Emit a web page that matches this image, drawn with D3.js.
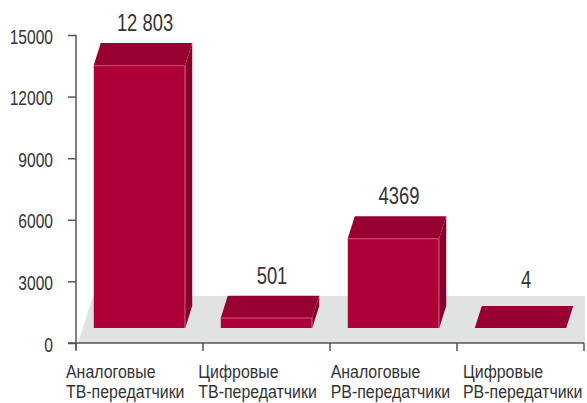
<!DOCTYPE html>
<html>
<head>
<meta charset="utf-8">
<script src="https://cdn.jsdelivr.net/npm/d3@7.9.0/dist/d3.min.js"></script>
<style>
  body { margin: 0; background: #fff; }
  svg { display: block; font-family: "Liberation Sans", Arial, sans-serif; }
</style>
</head>
<body>
<svg id="chart" width="587" height="403"></svg>
<script>
// data
const categories = [
  ['Аналоговые', 'ТВ-передатчики'],
  ['Цифровые', 'ТВ-передатчики'],
  ['Аналоговые', 'РВ-передатчики'],
  ['Цифровые', 'РВ-передатчики']
];
const values = [12803, 501, 4369, 4];
const valueLabels = ['12 803', '501', '4369', '4'];
const yTicks = [0, 3000, 6000, 9000, 12000, 15000];

const svg = d3.select('#chart');
const textColor = '#333';
const axisColor = '#555';
const narrow = 0.8; // condensed look

// put text at (x,y) and squeeze it horizontally
function squeeze(t, x, y, k = narrow) {
  t.attr('x', 0).attr('y', 0).attr('transform', `translate(${x},${y}) scale(${k},1)`);
}

const y = d3.scaleLinear().domain([0, 15000]).range([343, 35]);
const x = d3.scaleBand().domain(d3.range(values.length)).range([76, 584]).padding(0);

// 3d look
const floorDepth = 47;
const floorDx = 15;
const barInset = 15;
const depthDx = 7, depthDy = 22;
const barW = x.bandwidth() * 0.72;
const frontCol = '#ae0036', topCol = '#970030', sideCol = '#85002b';

// floor
const fy0 = y(0), fy1 = y(0) - floorDepth;
svg.append('path')
  .attr('d', `M${x.range()[0] + 2},${fy0} L${x.range()[0] + 2 + floorDx},${fy1} L${x.range()[1] + 1},${fy1} L${x.range()[1] + 1},${fy0} Z`)
  .attr('fill', '#e1e2e4');

// bars
const base = y(0) - barInset;
const h = (v) => y(0) - y(v);
values.forEach((v, i) => {
  const x0 = x(i) + (x.bandwidth() - barW) / 2;
  const x1 = x0 + barW;
  const yt = base - h(v);
  const g = svg.append('g');
  g.append('path')
    .attr('d', `M${x1},${base} L${x1 + depthDx},${base - depthDy} L${x1 + depthDx},${yt - depthDy} L${x1},${yt} Z`)
    .attr('fill', sideCol);
  g.append('path')
    .attr('d', `M${x0},${yt} L${x0 + depthDx},${yt - depthDy} L${x1 + depthDx},${yt - depthDy} L${x1},${yt} Z`)
    .attr('fill', topCol);
  if (h(v) > 0.5) {
    g.append('rect')
      .attr('x', x0).attr('y', yt)
      .attr('width', barW).attr('height', h(v))
      .attr('fill', frontCol);
    g.append('path')
      .attr('d', `M${x0},${yt + 0.5} L${x1 - 0.5},${yt + 0.5} L${x1 - 0.5},${base}`)
      .attr('fill', 'none')
      .attr('stroke', '#d2507c')
      .attr('stroke-width', 0.8);
  }
  const ly = Math.min(yt - depthDy - 12, fy1 - 8);
  const t = svg.append('text')
    .attr('text-anchor', 'middle')
    .attr('font-size', 23)
    .attr('fill', textColor)
    .text(valueLabels[i]);
  squeeze(t, (x0 + x1) / 2 + depthDx / 2 + 2, ly);
});

// y axis
const yAxis = svg.append('g').attr('transform', `translate(${x.range()[0]},0)`)
  .call(d3.axisLeft(y).tickValues(yTicks).tickSize(8).tickFormat(d3.format('d')));
yAxis.attr('font-family', null).attr('font-size', null);
yAxis.select('.domain').attr('stroke', axisColor).attr('stroke-width', 1.5).attr('d', `M0,${y(15000)}V${y(0) + 6}`);
yAxis.selectAll('.tick line').attr('stroke', axisColor).attr('stroke-width', 1.5);
yAxis.selectAll('.tick text')
  .attr('font-size', 19.5).attr('fill', textColor).attr('dy', null)
  .attr('dominant-baseline', 'central')
  .each(function () { squeeze(d3.select(this), -23, 1.5); });

// x axis
const xTickPos = d3.range(values.length + 1).map(i => x.range()[0] + i * x.step());
const xAxis = svg.append('g');
xAxis.append('line')
  .attr('x1', x.range()[0] - 8).attr('x2', x.range()[1])
  .attr('y1', y(0)).attr('y2', y(0))
  .attr('stroke', axisColor).attr('stroke-width', 1.5);
xAxis.selectAll('line.tk').data(xTickPos).join('line')
  .attr('class', 'tk')
  .attr('x1', d => d).attr('x2', d => d)
  .attr('y1', y(0)).attr('y2', y(0) + 8)
  .attr('stroke', axisColor).attr('stroke-width', 1.5);

// category labels, left aligned, spread a bit wider than the bands
const labelX = d3.scalePoint().domain(d3.range(categories.length)).range([66, 463]);
categories.forEach((lines, i) => {
  const t = xAxis.append('text')
    .attr('font-size', 18.5)
    .attr('fill', textColor);
  lines.forEach((s, j) => {
    t.append('tspan').attr('x', 0).attr('y', j * 20).text(s);
  });
  t.attr('transform', `translate(${labelX(i)},378) scale(0.86,1)`);
});
</script>
</body>
</html>
